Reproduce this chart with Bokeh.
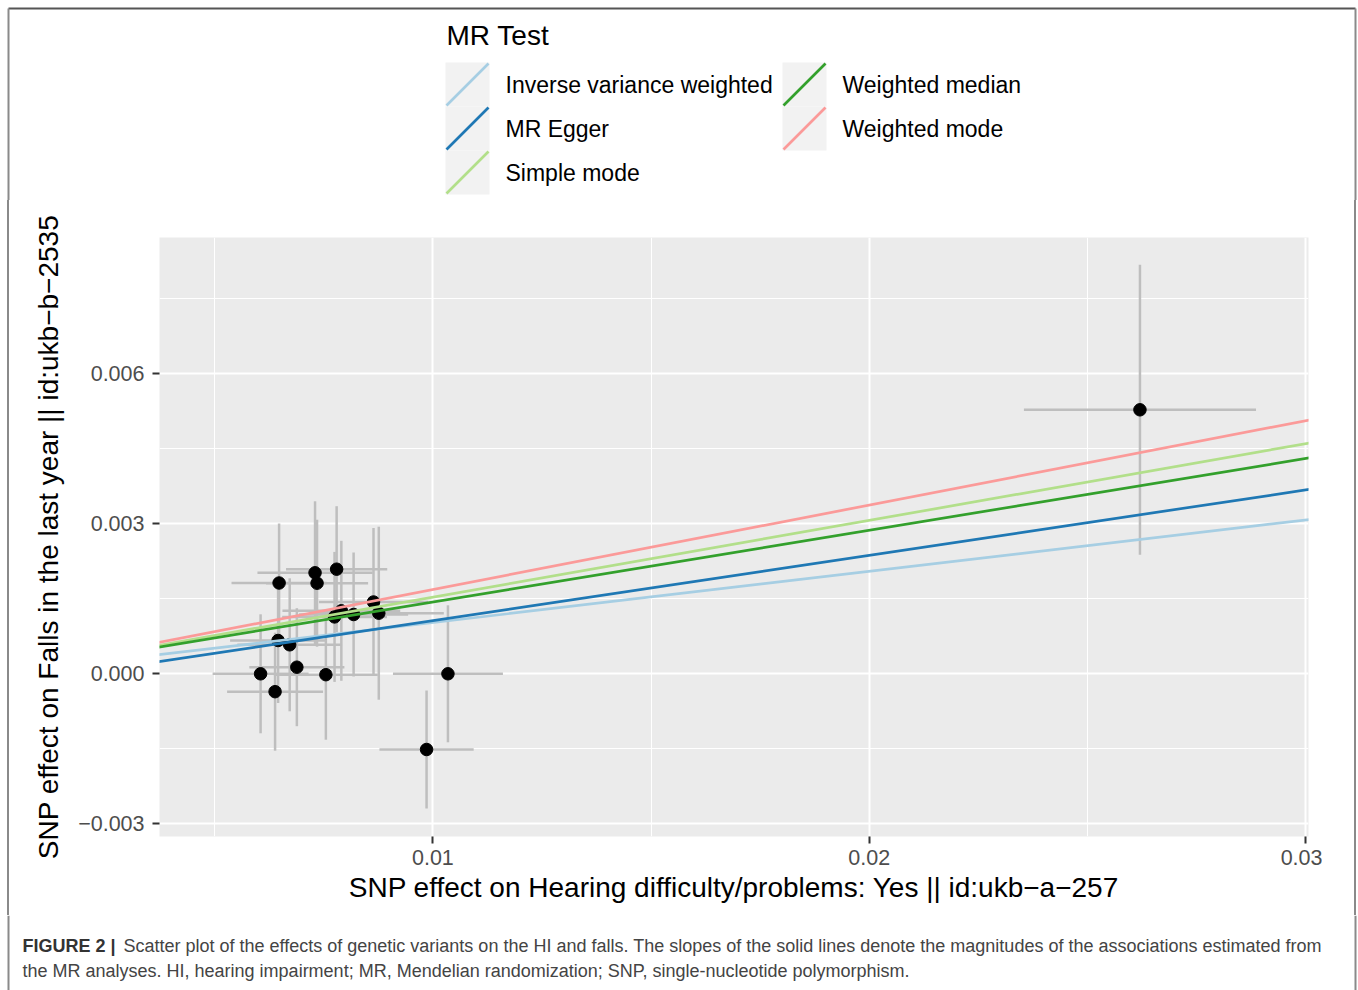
from bokeh.plotting import figure
from bokeh.layouts import column, row
from bokeh.models import FixedTicker, Slope, Range1d, ColumnDataSource, Div
from bokeh.core.properties import value
from bokeh.embed import file_html
from bokeh.resources import INLINE

# ---------------- data ----------------
snp_x = [0.006475, 0.007299, 0.007345, 0.007794, 0.006452, 0.006718, 0.006882, 0.006051,
         0.007547, 0.006383, 0.007746, 0.007902, 0.008183, 0.008639, 0.008760, 0.010345,
         0.009855, 0.026206]
snp_y = [0.001816, 0.002020, 0.001812, 0.002092, 0.000666, 0.000580, 0.000132, 0.000000,
         -0.000018, -0.000358, 0.001138, 0.001260, 0.001186, 0.001436, 0.001212, 0.000000,
         -0.001514, 0.005280]
se_x = [0.00109, 0.00132, 0.00117, 0.00116, 0.00110, 0.00120, 0.00109, 0.00110, 0.00119,
        0.00110, 0.00120, 0.00135, 0.00125, 0.00125, 0.00149, 0.00126, 0.00108, 0.00266]
se_y = [0.00119, 0.00143, 0.00127, 0.00126, 0.00125, 0.00133, 0.00118, 0.00119, 0.00130,
        0.00118, 0.00130, 0.00140, 0.00124, 0.00148, 0.00173, 0.00137, 0.00118, 0.00290]

methods = ["Inverse variance weighted", "MR Egger", "Simple mode", "Weighted median", "Weighted mode"]
slopes = [0.1025, 0.1306, 0.1534, 0.1435, 0.1687]
intercepts = [0.0, -0.000242, 0.0, 0.0, 0.0]
colors = ["#A6CEE3", "#1F78B4", "#B2DF8A", "#33A02C", "#FB9A99"]

x_ticks = [0.01, 0.02, 0.03]
x_tick_labels = ["0.01", "0.02", "0.03"]
x_minor = [0.005, 0.015, 0.025]
y_ticks = [-0.003, 0.0, 0.003, 0.006]
y_tick_labels = ["\u22120.003", "0.000", "0.003", "0.006"]
y_minor = [-0.0015, 0.0015, 0.0045, 0.0075]

x_title = "SNP effect on Hearing difficulty/problems: Yes || id:ukb\u2212a\u2212257"
y_title = "SNP effect on Falls in the last year || id:ukb\u2212b\u22122535"
legend_title = "MR Test"
caption_bold = "FIGURE 2 |"
caption_1 = ("Scatter plot of the effects of genetic variants on the HI and falls. "
             "The slopes of the solid lines denote the magnitudes of the associations estimated from")
caption_2 = "the MR analyses. HI, hearing impairment; MR, Mendelian randomization; SNP, single-nucleotide polymorphism."

# ---------------- layout constants (page pixels) ----------------
W, H = 1358, 990
FONT = "Liberation Sans"
TOP_H = 200          # legend band
MID_H = 715          # plot band
BOT_H = H - TOP_H - MID_H
LEFT_W = 10
RIGHT_W = 36
MAIN_W = W - LEFT_W - RIGHT_W
FL, FR, FT, FB = 159, 1308, 237, 836   # panel edges on the page
SIDE_C = "#8A8A8A"
TOP_C = "#555555"


def band(w, h, x0, y0):
    """A blank drawing band whose data units are page pixels (y downwards)."""
    f = figure(width=w, height=h, x_range=Range1d(x0, x0 + w), y_range=Range1d(y0 + h, y0),
               x_axis_location=None, y_axis_location=None, toolbar_location=None,
               output_backend="svg", min_border=0)
    f.outline_line_color = None
    f.grid.visible = False
    f.background_fill_color = "white"
    f.border_fill_color = "white"
    return f


# ---------------- main plot ----------------
p = figure(width=MAIN_W, height=MID_H, output_backend="svg", toolbar_location=None,
           x_range=Range1d(0.003734, 0.030069), y_range=Range1d(-0.003254, 0.008726),
           min_border_left=FL - LEFT_W, min_border_right=LEFT_W + MAIN_W - FR,
           min_border_top=FT - TOP_H, min_border_bottom=TOP_H + MID_H - FB)
p.background_fill_color = "#EBEBEB"
p.border_fill_color = "white"
p.outline_line_color = None

p.xaxis.ticker = FixedTicker(ticks=x_ticks, minor_ticks=x_minor)
p.yaxis.ticker = FixedTicker(ticks=y_ticks, minor_ticks=y_minor)
p.xaxis.major_label_overrides = {t: l for t, l in zip(x_ticks, x_tick_labels)}
p.yaxis.major_label_overrides = {t: l for t, l in zip(y_ticks, y_tick_labels)}

for g in (p.xgrid, p.ygrid):
    g.grid_line_color = "white"
    g.grid_line_width = 2
    g.minor_grid_line_color = "white"
    g.minor_grid_line_width = 1

for ax in (p.xaxis, p.yaxis):
    ax.axis_line_color = None
    ax.minor_tick_line_color = None
    ax.major_tick_line_color = "#333333"
    ax.major_tick_line_width = 2
    ax.major_tick_in = 0
    ax.major_tick_out = 7
    ax.major_label_text_font = FONT
    ax.major_label_text_font_size = "21.5px"
    ax.major_label_text_color = "#4D4D4D"
    ax.axis_label_text_font = FONT
    ax.axis_label_text_font_size = "28px"
    ax.axis_label_text_font_style = "normal"
    ax.axis_label_text_color = "black"

p.xaxis.axis_label = x_title
p.yaxis.axis_label = y_title
p.xaxis.major_label_standoff = 6
p.xaxis.axis_label_standoff = 4
p.yaxis.major_label_standoff = 8
p.yaxis.axis_label_standoff = 11

src = ColumnDataSource(dict(
    x=snp_x, y=snp_y,
    x0=[a - b for a, b in zip(snp_x, se_x)], x1=[a + b for a, b in zip(snp_x, se_x)],
    y0=[a - b for a, b in zip(snp_y, se_y)], y1=[a + b for a, b in zip(snp_y, se_y)],
))
p.segment(x0="x", y0="y0", x1="x", y1="y1", source=src, line_color="#BEBEBE", line_width=2.5)
p.segment(x0="x0", y0="y", x1="x1", y1="y", source=src, line_color="#BEBEBE", line_width=2.5)
p.scatter(x="x", y="y", source=src, size=12.5, fill_color="black", line_color="black")

for s, b, c in zip(slopes, intercepts, colors):
    p.add_layout(Slope(gradient=s, y_intercept=b, line_color=c, line_width=2.7))

# ---------------- top band: page frame + legend ----------------
top = band(W, TOP_H, 0, 0)
top.segment(x0=[8], y0=[8], x1=[1355], y1=[8], line_color=TOP_C, line_width=2)
top.segment(x0=[8, 1355], y0=[8, 8], x1=[8, 1355], y1=[TOP_H, TOP_H], line_color=SIDE_C, line_width=2)

top.text(x=[446], y=[35], text=[legend_title], text_font=value(FONT), text_font_size="28px",
         text_baseline="middle", text_color="black")
key = 44
kx = [445, 445, 445, 782, 782]
ky = [62, 106, 150, 62, 106]
top.quad(left=kx, right=[k + key for k in kx], top=ky, bottom=[k + key for k in ky],
         fill_color="#F2F2F2", line_color=None)
top.segment(x0=[k + 1 for k in kx], y0=[k + key - 1 for k in ky],
            x1=[k + key - 1 for k in kx], y1=[k + 1 for k in ky],
            line_color=colors, line_width=2.7)
top.text(x=[k + 60 for k in kx], y=[k + 22 for k in ky], text=methods, text_font=value(FONT),
         text_font_size="23px", text_baseline="middle", text_color="black")

# ---------------- side strips (plain page frame lines) ----------------
left = Div(text="", width=LEFT_W, height=MID_H, margin=(0, 0, 0, 0),
           styles={"background": "linear-gradient(to right, white 0px, white 7px, %s 7px, %s 9px, white 9px)"
                   % (SIDE_C, SIDE_C)})
right = Div(text="", width=RIGHT_W, height=MID_H, margin=(0, 0, 0, 0),
            styles={"background": "linear-gradient(to right, white 0px, white 32px, %s 32px, %s 34px, white 34px)"
                    % (SIDE_C, SIDE_C)})

# ---------------- bottom band: caption ----------------
bot = band(W, BOT_H, 0, TOP_H + MID_H)
bot.segment(x0=[8, 1355], y0=[TOP_H + MID_H] * 2, x1=[8, 1355], y1=[H] * 2,
            line_color=SIDE_C, line_width=2)
bot.text(x=[22], y=[945], text=[caption_bold], text_font=value(FONT), text_font_size="18px",
         text_font_style="bold", text_baseline="middle", text_color="#333333")
bot.text(x=[123, 22], y=[945, 970], text=[caption_1, caption_2], text_font=value(FONT),
         text_font_size="18px", text_baseline="middle", text_color="#444444")

layout = column(top, row(left, p, right), bot)
open("out.html", "w").write(file_html(layout, INLINE))
